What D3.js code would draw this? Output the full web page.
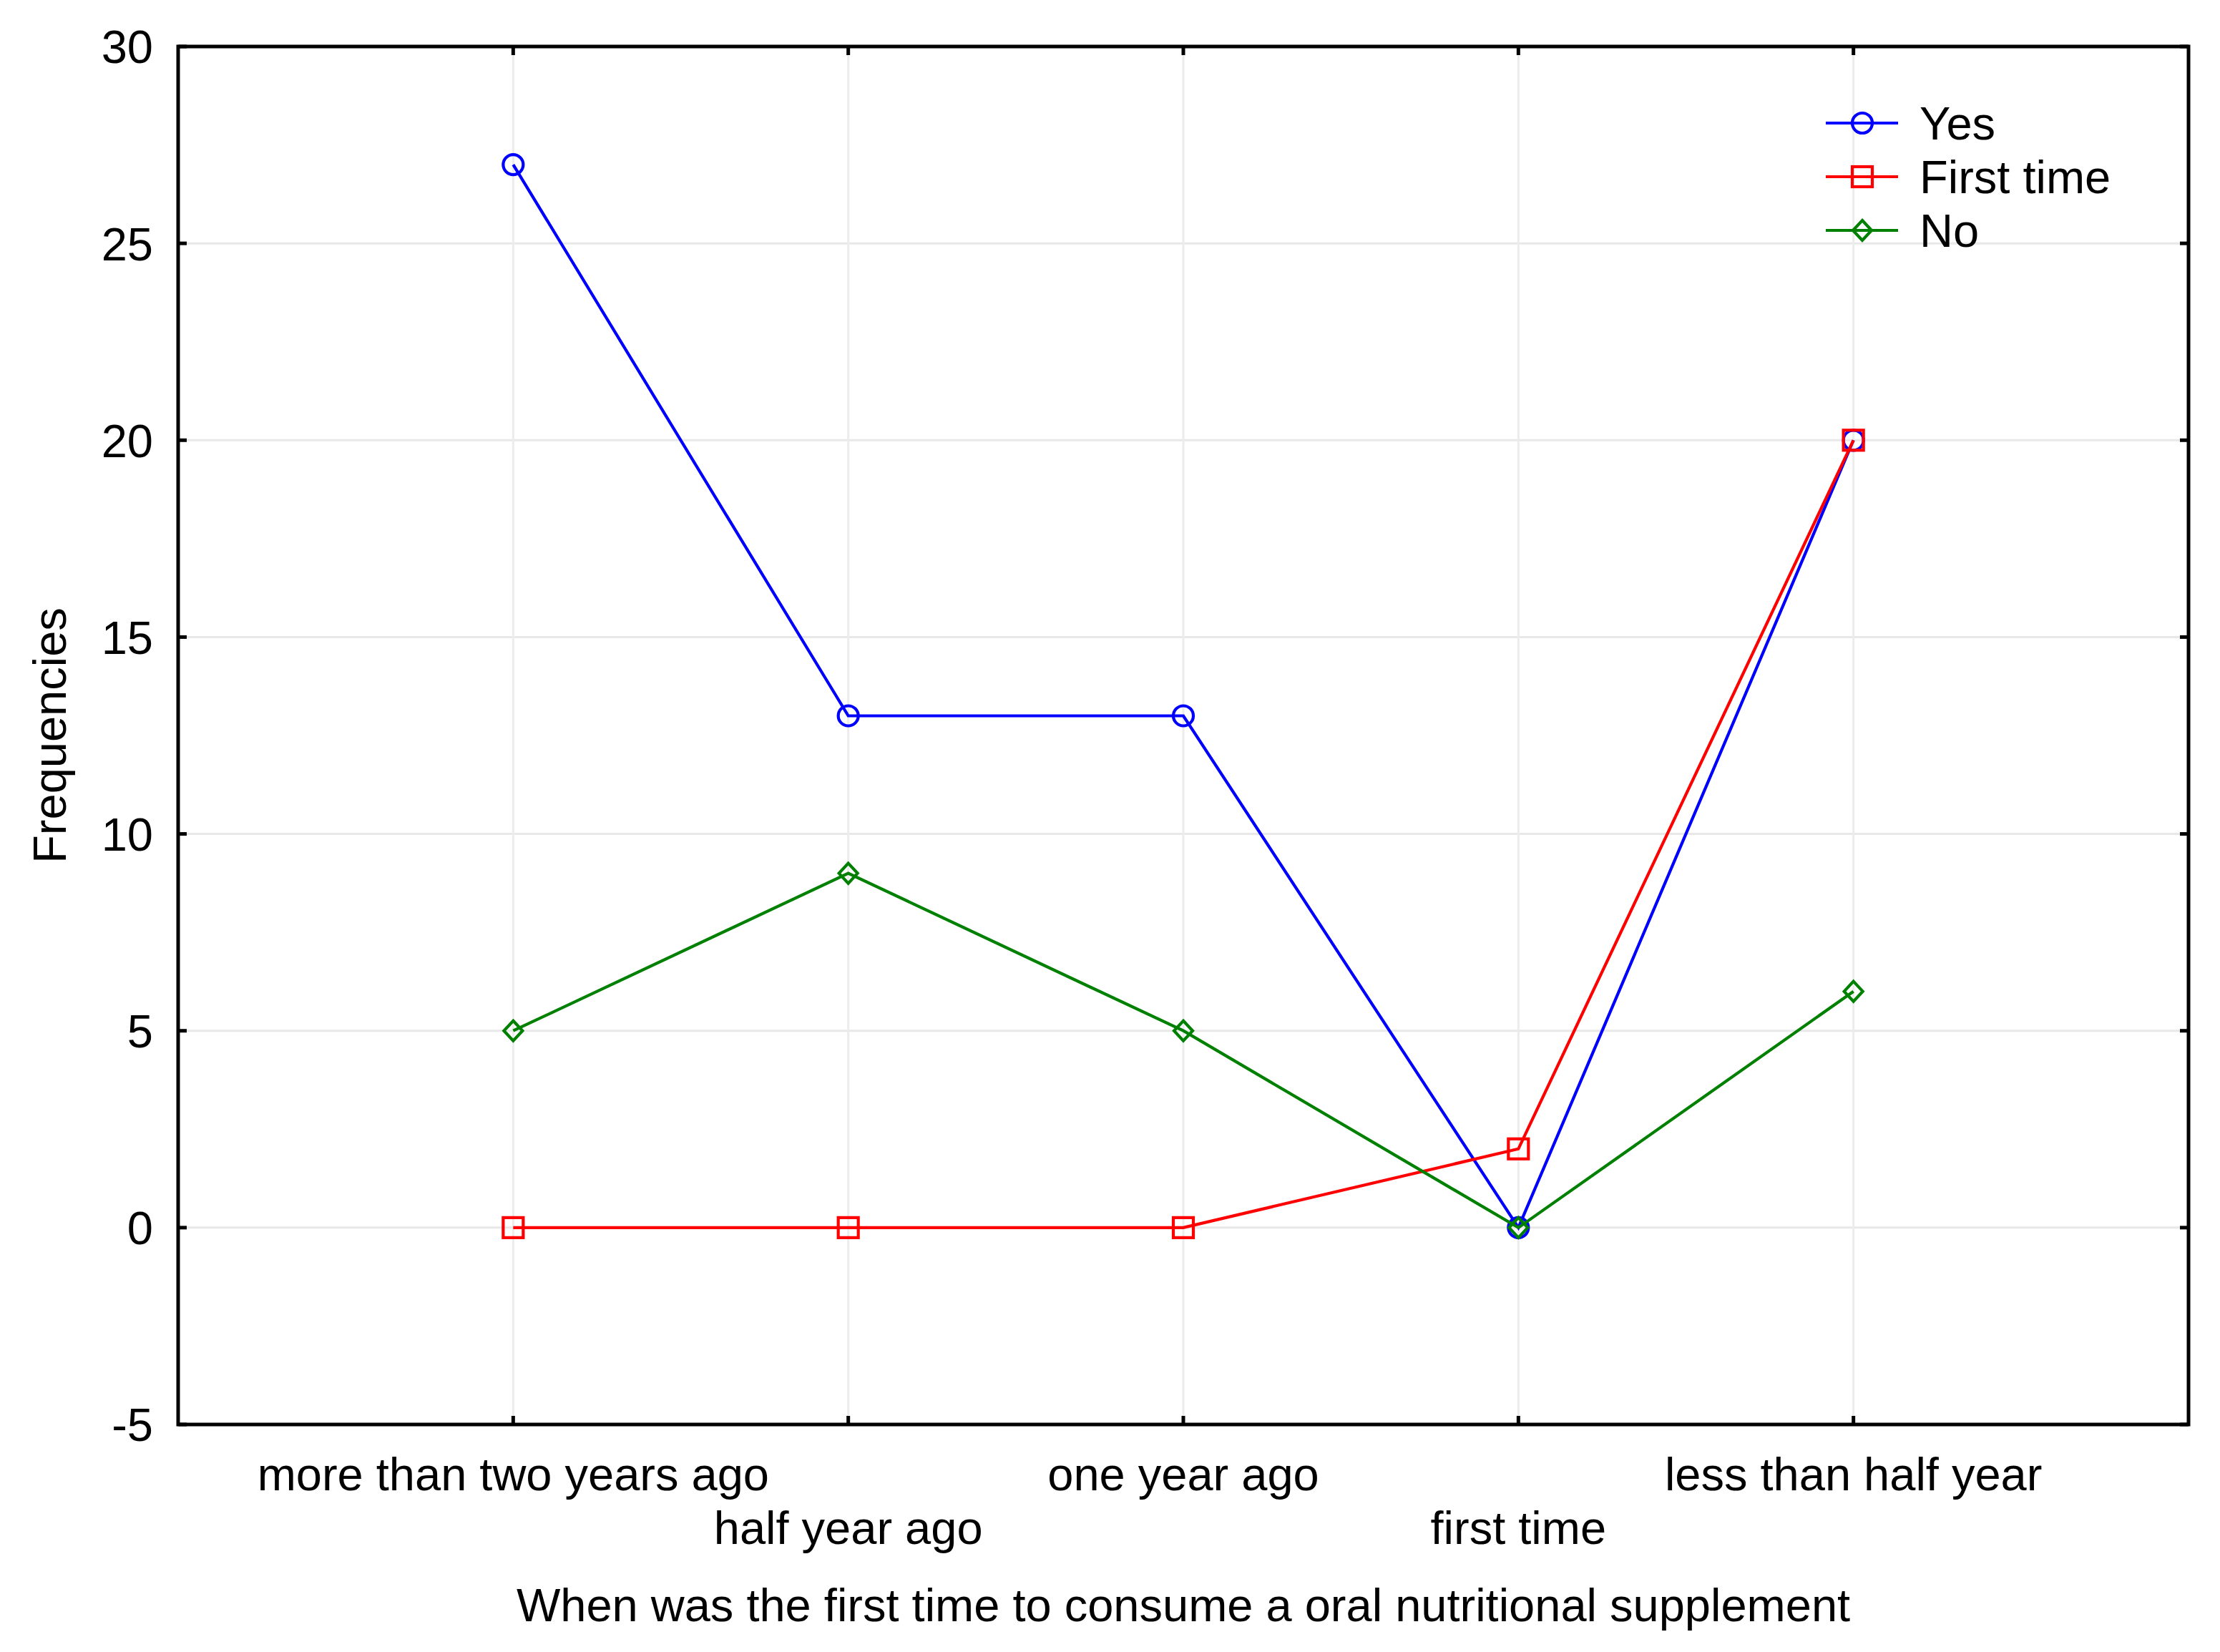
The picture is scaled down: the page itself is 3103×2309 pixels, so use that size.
<!DOCTYPE html>
<html>
<head>
<meta charset="utf-8">
<script src="https://cdn.jsdelivr.net/npm/d3@7"></script>
<style>
  html, body { margin: 0; padding: 0; background: #fff; }
  svg { display: block; }
  text { font-family: "Liberation Sans", Arial, sans-serif; fill: #000; }
</style>
</head>
<body>
<script>
const categories = ["more than two years ago", "half year ago", "one year ago", "first time", "less than half year"];
const seriesNames = ["Yes", "First time", "No"];
const yesValues = [27, 13, 13, 0, 20];
const firstTimeValues = [0, 0, 0, 2, 20];
const noValues = [5, 9, 5, 0, 6];
const yTicks = [-5, 0, 5, 10, 15, 20, 25, 30];
const xTitle = "When was the first time to consume a oral nutritional supplement";
const yTitle = "Frequencies";

const W = 3103, H = 2309;
const L = 249, R = 3059, T = 65, B = 1991;

const svg = d3.select("body").append("svg").attr("width", W).attr("height", H);

const x = d3.scaleLinear().domain([0, categories.length + 1]).range([L, R]);
const y = d3.scaleLinear().domain([-5, 30]).range([B, T]);

// gridlines
const grid = svg.append("g");
grid.selectAll(".gy").data(yTicks.filter(d => d > -5 && d < 30)).enter().append("line")
  .attr("x1", L).attr("x2", R).attr("y1", d => y(d)).attr("y2", d => y(d))
  .attr("stroke", "#e8e8e8").attr("stroke-width", 3);
grid.selectAll(".gx").data(categories).enter().append("line")
  .attr("x1", (d, i) => x(i + 1)).attr("x2", (d, i) => x(i + 1)).attr("y1", T).attr("y2", B)
  .attr("stroke", "#ececec").attr("stroke-width", 3);

// series
const series = [
  { name: seriesNames[0], values: yesValues, color: "#0000ff", shape: "circle" },
  { name: seriesNames[1], values: firstTimeValues, color: "#ff0000", shape: "square" },
  { name: seriesNames[2], values: noValues, color: "#008000", shape: "diamond" }
];

const line = d3.line().x((d, i) => x(i + 1)).y(d => y(d));
const SW = 4.2;

function marker(g, shape, cx, cy, color) {
  if (shape === "circle") {
    g.append("circle").attr("cx", cx).attr("cy", cy).attr("r", 14)
      .attr("fill", "none").attr("stroke", color).attr("stroke-width", SW);
  } else if (shape === "square") {
    g.append("rect").attr("x", cx - 14).attr("y", cy - 14).attr("width", 28).attr("height", 28)
      .attr("fill", "none").attr("stroke", color).attr("stroke-width", SW);
  } else {
    g.append("path").attr("d", `M${cx},${cy - 14}L${cx + 13},${cy}L${cx},${cy + 14}L${cx - 13},${cy}Z`)
      .attr("fill", "none").attr("stroke", color).attr("stroke-width", SW);
  }
}

series.forEach(s => {
  const g = svg.append("g");
  g.append("path").datum(s.values).attr("d", line)
    .attr("fill", "none").attr("stroke", s.color).attr("stroke-width", SW);
  s.values.forEach((v, i) => marker(g, s.shape, x(i + 1), y(v), s.color));
});

// frame and inside ticks
svg.append("rect").attr("x", L).attr("y", T).attr("width", R - L).attr("height", B - T)
  .attr("fill", "none").attr("stroke", "#000").attr("stroke-width", 5);
const tk = svg.append("g").attr("stroke", "#000").attr("stroke-width", 5);
yTicks.forEach(d => {
  tk.append("line").attr("x1", L).attr("x2", L + 12).attr("y1", y(d)).attr("y2", y(d));
  tk.append("line").attr("x1", R).attr("x2", R - 12).attr("y1", y(d)).attr("y2", y(d));
});
categories.forEach((c, i) => {
  tk.append("line").attr("x1", x(i + 1)).attr("x2", x(i + 1)).attr("y1", B).attr("y2", B - 12);
  tk.append("line").attr("x1", x(i + 1)).attr("x2", x(i + 1)).attr("y1", T).attr("y2", T + 12);
});

// y tick labels
svg.append("g").selectAll("text").data(yTicks).enter().append("text")
  .attr("x", 214).attr("y", d => y(d)).attr("dy", "0.36em")
  .attr("text-anchor", "end").attr("font-size", 65).text(d => d);

// x tick labels (staggered)
svg.append("g").selectAll("text").data(categories).enter().append("text")
  .attr("x", (d, i) => x(i + 1)).attr("y", (d, i) => i % 2 === 0 ? 2083 : 2158)
  .attr("text-anchor", "middle").attr("font-size", 65).text(d => d);

// axis titles
svg.append("text").attr("x", (L + R) / 2).attr("y", 2266).attr("text-anchor", "middle")
  .attr("font-size", 65).text(xTitle);
svg.append("text").attr("transform", `translate(92,${(T + B) / 2}) rotate(-90)`)
  .attr("text-anchor", "middle").attr("font-size", 65).text(yTitle);

// legend
const lg = svg.append("g");
series.forEach((s, i) => {
  const ly = 172 + i * 75;
  lg.append("line").attr("x1", 2552).attr("x2", 2653).attr("y1", ly).attr("y2", ly)
    .attr("stroke", s.color).attr("stroke-width", SW);
  marker(lg, s.shape, 2603, ly, s.color);
  lg.append("text").attr("x", 2683).attr("y", ly).attr("dy", "0.36em")
    .attr("font-size", 65).text(s.name);
});
</script>
</body>
</html>
